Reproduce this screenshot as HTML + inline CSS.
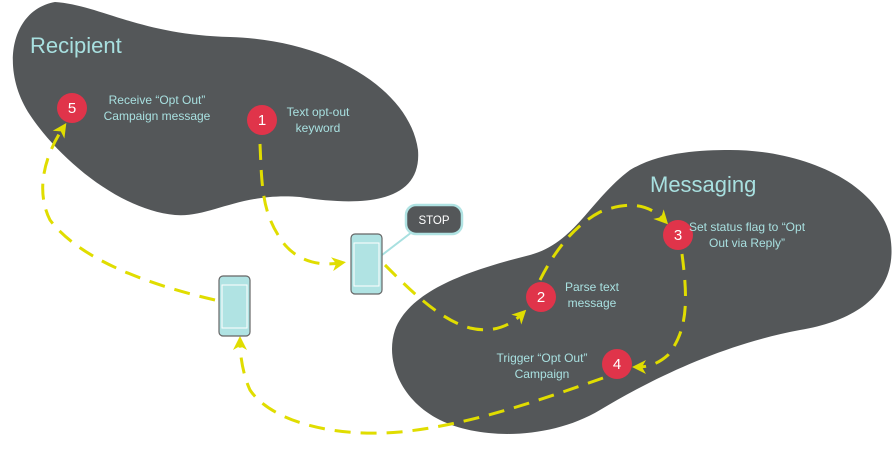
<!DOCTYPE html>
<html><head><meta charset="utf-8"><style>
body{margin:0;background:#fff;}
svg{display:block;font-family:"Liberation Sans",sans-serif;}
</style></head><body>
<svg width="894" height="453" viewBox="0 0 894 453">
<defs>
<marker id="ar" markerWidth="14" markerHeight="14" refX="8" refY="7" orient="auto" markerUnits="userSpaceOnUse">
<path d="M0,0 L14,7 L0,14 L4,7 Z" fill="#e0dd00"/>
</marker>
</defs>
<path d="M 55,2 C 100,5 140,35 230,37 C 330,40 410,90 418,150 C 422,200 370,208 300,197 C 240,192 210,218 175,215 C 120,210 60,160 30,115 C 0,70 10,10 55,2 Z" fill="#545759"/>
<path d="M 730,150 C 800,150 875,180 890,235 C 900,290 860,320 800,330 C 720,345 650,380 600,410 C 550,440 480,440 440,420 C 400,400 385,360 395,330 C 410,290 470,270 530,255 C 575,243 590,200 630,170 C 660,152 700,150 730,150 Z" fill="#545759"/>
<text x="30" y="53" font-size="22" fill="#a8e0e0">Recipient</text>
<text x="650" y="192" font-size="22" fill="#a8e0e0">Messaging</text>
<g fill="none" stroke="#e0dd00" stroke-width="3" stroke-dasharray="16,10">
<path d="M260,144 C262,190 262,215 285,245 C300,262 320,266 340,263" marker-end="url(#ar)"/>
<path d="M385,265 C410,290 440,320 470,328 C495,334 512,324 522,314" marker-end="url(#ar)"/>
<path d="M540,280 C555,250 575,225 600,212 C630,200 650,205 664,220" marker-end="url(#ar)"/>
<path d="M682,254 C688,300 688,330 668,355 C658,364 648,367 638,367" marker-end="url(#ar)"/>
<path d="M603,378 C540,400 470,425 400,432 C330,438 270,420 250,390 C243,375 240,355 240,342" marker-end="url(#ar)"/>
<path d="M215,300 C150,285 80,260 50,220 C35,190 45,155 63,128" marker-end="url(#ar)"/>
</g>
<line x1="382" y1="255" x2="412" y2="232" stroke="#a8e0e0" stroke-width="2"/>
<rect x="406" y="205" width="56" height="29" rx="10" fill="#545759" stroke="#b0e3e3" stroke-width="2.5"/>
<text x="434" y="224" font-size="11.5" fill="#fff" text-anchor="middle">STOP</text>
<g>
<rect x="351" y="234" width="31" height="60" rx="4" fill="#b0e3e3" stroke="#666" stroke-width="1.2"/>
<rect x="354" y="243" width="25" height="43" fill="#b0e3e3" stroke="#fff" stroke-width="1"/>
<rect x="219" y="276" width="31" height="60" rx="4" fill="#b0e3e3" stroke="#666" stroke-width="1.2"/>
<rect x="222" y="285" width="25" height="43" fill="#b0e3e3" stroke="#fff" stroke-width="1"/>
</g>
<g fill="#e0344a">
<circle cx="72" cy="108" r="15"/><circle cx="262" cy="120" r="15"/>
<circle cx="678" cy="235" r="15"/><circle cx="541" cy="297" r="15"/><circle cx="617" cy="364" r="15"/>
</g>
<g fill="#fff" font-size="15" text-anchor="middle">
<text x="72" y="113">5</text><text x="262" y="125">1</text><text x="678" y="240">3</text><text x="541" y="302">2</text><text x="617" y="369">4</text>
</g>
<g fill="#a8e0e0" font-size="12" text-anchor="middle">
<text x="157" y="104">Receive “Opt Out”</text><text x="157" y="120">Campaign message</text>
<text x="318" y="116">Text opt-out</text><text x="318" y="132">keyword</text>
<text x="747" y="231">Set status flag to “Opt</text><text x="747" y="247">Out via Reply”</text>
<text x="592" y="291">Parse text</text><text x="592" y="307">message</text>
<text x="542" y="362">Trigger “Opt Out”</text><text x="542" y="378">Campaign</text>
</g>
</svg>
</body></html>
